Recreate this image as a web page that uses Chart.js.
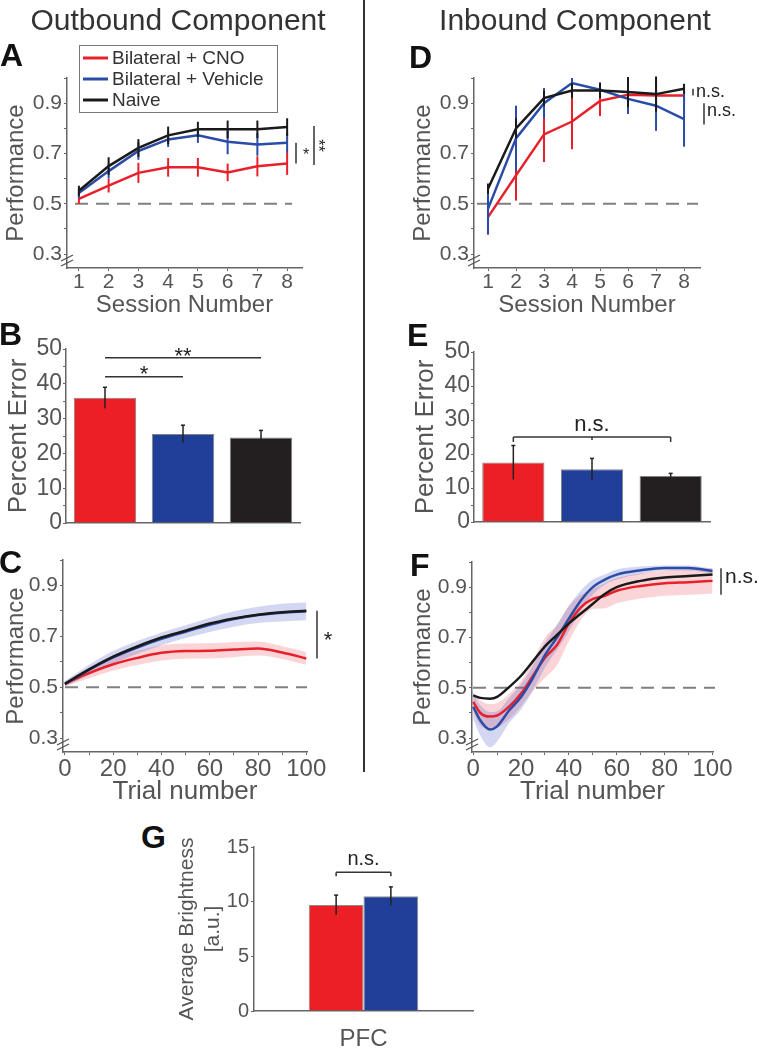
<!DOCTYPE html>
<html>
<head>
<meta charset="utf-8">
<title>Outbound / Inbound Component</title>
<script src="https://cdn.jsdelivr.net/npm/chart.js@4.4.1/dist/chart.umd.min.js"></script>
<style>
  body { margin: 0; background: #fff; }
  #fig { position: relative; width: 760px; height: 1050px; overflow: hidden; font-family: "Liberation Sans", Arial, Helvetica, sans-serif; }
  #fig canvas { position: absolute; }
  .head { position: absolute; font-size: 30px; line-height: 30px; color: #333; text-align: center; white-space: nowrap; }
  .tag { position: absolute; font-size: 32px; line-height: 32px; font-weight: bold; color: #111; }
  #divider { position: absolute; left: 363px; top: 0; width: 2px; height: 772px; background: #333; }
</style>
</head>
<body>
<div id="fig">
  <canvas id="chartA" width="362" height="292" style="left:0;top:30px"></canvas>
  <canvas id="chartD" width="353" height="292" style="left:407px;top:30px"></canvas>
  <canvas id="chartB" width="362" height="219" style="left:0;top:320px"></canvas>
  <canvas id="chartE" width="353" height="218" style="left:407px;top:320px"></canvas>
  <canvas id="chartC" width="362" height="265" style="left:0;top:545px"></canvas>
  <canvas id="chartF" width="353" height="265" style="left:407px;top:545px"></canvas>
  <canvas id="chartG" width="330" height="220" style="left:171px;top:830px"></canvas>

  <div class="head" style="left:28px;top:5px;width:300px">Outbound Component</div>
  <div class="head" style="left:425px;top:5px;width:300px">Inbound Component</div>
  <div id="divider"></div>
  <div class="tag" style="left:0;top:39px">A</div>
  <div class="tag" style="left:409px;top:41px">D</div>
  <div class="tag" style="left:-1px;top:318px">B</div>
  <div class="tag" style="left:407px;top:319px">E</div>
  <div class="tag" style="left:-1px;top:546px">C</div>
  <div class="tag" style="left:410px;top:549px">F</div>
  <div class="tag" style="left:141px;top:821px">G</div>
</div>

<script>
// ---- data ----
var groups = ['Bilateral + CNO', 'Bilateral + Vehicle', 'Naive'];

var sessions = [1, 2, 3, 4, 5, 6, 7, 8];
var sessionLabels = ['1', '2', '3', '4', '5', '6', '7', '8'];
var perfTicks = [0.3, 0.4, 0.5, 0.6, 0.7, 0.8, 0.9, 1.0];
var perfTickLabels = ['0.3', '', '0.5', '', '0.7', '', '0.9', ''];

// A - outbound performance per session
var outCNO = [0.52, 0.572, 0.623, 0.645, 0.645, 0.625, 0.649, 0.66];
var outCNOErr = [0.02, 0.027, 0.04, 0.037, 0.037, 0.035, 0.04, 0.045];
var outVeh = [0.543, 0.63, 0.71, 0.756, 0.772, 0.747, 0.736, 0.743];
var outVehErr = [0.02, 0.03, 0.035, 0.03, 0.03, 0.05, 0.045, 0.04];
var outNaive = [0.552, 0.65, 0.722, 0.772, 0.796, 0.796, 0.796, 0.805];
var outNaiveErr = [0.02, 0.035, 0.035, 0.035, 0.03, 0.035, 0.035, 0.035];

// D - inbound performance per session
var inCNO = [0.447, 0.613, 0.776, 0.827, 0.909, 0.933, 0.93, 0.93];
var inCNOErr = [0.07, 0.1, 0.11, 0.11, 0.06, 0.07, 0.06, 0.02];
var inVeh = [0.48, 0.76, 0.9, 0.98, 0.953, 0.917, 0.89, 0.837];
var inVehErr = [0.1, 0.13, 0.06, 0.02, 0.03, 0.06, 0.1, 0.11];
var inNaive = [0.56, 0.8, 0.92, 0.95, 0.95, 0.944, 0.936, 0.957];
var inNaiveErr = [0.02, 0.04, 0.03, 0.03, 0.03, 0.06, 0.07, 0.02];

// B / E - percent error
var pctTicks = [0, 5, 10, 15, 20, 25, 30, 35, 40, 45, 50];
var pctTickLabels = ['0', '', '10', '', '20', '', '30', '', '40', '', '50'];
var outError = [36, 25.6, 24.6];
var outErrorSem = [3, 2.5, 2];
var inError = [17.5, 15.5, 13.5];
var inErrorSem = [5, 3.2, 0.8];

// C - outbound performance by trial
var trialTicks = [0, 10, 20, 30, 40, 50, 60, 70, 80, 90, 100];
var trialTickLabels = ['0', '', '20', '', '40', '', '60', '', '80', '', '100'];
var trialsC = [0, 10, 20, 30, 40, 50, 60, 70, 80, 90, 100];
var cNaive = [0.513, 0.57, 0.62, 0.66, 0.695, 0.722, 0.75, 0.77, 0.785, 0.795, 0.8];
var cVeh = [0.513, 0.568, 0.617, 0.656, 0.69, 0.718, 0.745, 0.768, 0.784, 0.793, 0.798];
var cVehBand = [0.01, 0.02, 0.025, 0.025, 0.025, 0.025, 0.028, 0.03, 0.032, 0.035, 0.035];
var cCNO = [0.513, 0.555, 0.59, 0.615, 0.635, 0.642, 0.643, 0.648, 0.652, 0.636, 0.613];
var cCNOBand = [0.01, 0.02, 0.025, 0.028, 0.03, 0.03, 0.03, 0.03, 0.028, 0.025, 0.025];

// F - inbound performance by trial
var trialsF = [0, 3, 7, 10, 15, 20, 25, 30, 35, 40, 45, 50, 55, 60, 70, 80, 90, 100];
var fNaive = [0.47, 0.46, 0.457, 0.464, 0.503, 0.548, 0.606, 0.665, 0.71, 0.756, 0.795, 0.834, 0.873, 0.9, 0.925, 0.938, 0.944, 0.95];
var fVeh = [0.425, 0.37, 0.334, 0.347, 0.41, 0.464, 0.54, 0.63, 0.7, 0.775, 0.847, 0.9, 0.93, 0.95, 0.967, 0.976, 0.976, 0.964];
var fVehBand = [0.05, 0.06, 0.07, 0.06, 0.05, 0.05, 0.05, 0.05, 0.05, 0.05, 0.04, 0.03, 0.02, 0.02, 0.015, 0.01, 0.01, 0.01];
var fCNO = [0.444, 0.4, 0.386, 0.39, 0.425, 0.477, 0.548, 0.62, 0.67, 0.756, 0.82, 0.853, 0.866, 0.886, 0.905, 0.916, 0.92, 0.925];
var fCNOBand = [0.04, 0.05, 0.05, 0.05, 0.05, 0.05, 0.06, 0.08, 0.08, 0.07, 0.05, 0.04, 0.05, 0.05, 0.05, 0.05, 0.05, 0.05];

// G - brightness
var regions = ['PFC'];
var brightTicks = [0, 5, 10, 15];
var brightTickLabels = ['0', '5', '10', '15'];
var brightCNO = [9.7];
var brightCNOErr = [0.9];
var brightVeh = [10.5];
var brightVehErr = [0.85];

// ---- style ----
var FONT = '"Liberation Sans", Arial, Helvetica, sans-serif';
var TXT = '#555';
var AX = '#666';
var RED = '#e8202a', BLUE = '#2b4ca6', BLACK = '#1a1a1a';
var RED_BAR = '#ec1f26', BLUE_BAR = '#203f99', BLACK_BAR = '#231f20';
var RED_BAND = 'rgba(232,60,70,0.22)', BLUE_BAND = 'rgba(80,95,200,0.25)';

function font(size) { return { family: FONT, size: size }; }

function pts(xs, ys) {
    return xs.map(function (x, i) { return { x: x, y: ys[i] }; });
}

function lineDs(xs, ys, color, smooth) {
    return {
        data: pts(xs, ys), borderColor: color, borderWidth: 2.5,
        pointRadius: 0, fill: false,
        cubicInterpolationMode: smooth ? 'monotone' : 'default', tension: 0
    };
}

function bandDs(xs, ys, band, color) {
    var up = ys.map(function (v, i) { return v + band[i]; });
    var lo = ys.map(function (v, i) { return v - band[i]; });
    return [
        { data: pts(xs, up), borderColor: 'rgba(0,0,0,0)', borderWidth: 0, pointRadius: 0,
          backgroundColor: color, fill: '+1', cubicInterpolationMode: 'monotone' },
        { data: pts(xs, lo), borderColor: 'rgba(0,0,0,0)', borderWidth: 0, pointRadius: 0,
          fill: false, cubicInterpolationMode: 'monotone' }
    ];
}

function base(pad) {
    return {
        responsive: false, animation: false, events: [],
        layout: { padding: pad },
        plugins: { legend: { display: false }, tooltip: { enabled: false } }
    };
}

function fixedTicks(values) {
    return function (s) { s.ticks = values.map(function (v) { return { value: v }; }); };
}

function perfScale(w) {
    return {
        type: 'linear', min: 0.245, max: 1.0, bounds: 'data',
        afterFit: function (s) { s.width = w; },
        afterBuildTicks: fixedTicks(perfTicks),
        ticks: { autoSkip: false, color: TXT, font: font(21), padding: 2,
                 callback: function (v, i) { return perfTickLabels[i]; } },
        grid: { drawOnChartArea: false, color: AX, tickLength: 3 },
        border: { color: AX, width: 1.5 },
        title: { display: true, text: 'Performance', color: TXT, font: font(24), padding: { top: 2, bottom: 0 } }
    };
}

function sessionScale(h, min, max) {
    return {
        type: 'linear', min: min, max: max, bounds: 'data',
        afterFit: function (s) { s.height = h; },
        afterBuildTicks: fixedTicks(sessions),
        ticks: { autoSkip: false, maxRotation: 0, color: TXT, font: font(21), padding: -1,
                 callback: function (v, i) { return sessionLabels[i]; } },
        grid: { drawOnChartArea: false, color: AX, tickLength: 3 },
        border: { color: AX, width: 1.5 },
        title: { display: true, text: 'Session Number', color: TXT, font: font(24), padding: { top: 0, bottom: 2 } }
    };
}

function trialScale(h, min, max) {
    return {
        type: 'linear', min: min, max: max, bounds: 'data',
        afterFit: function (s) { s.height = h; },
        afterBuildTicks: fixedTicks(trialTicks),
        ticks: { autoSkip: false, maxRotation: 0, color: TXT, font: font(24), padding: 0,
                 callback: function (v, i) { return trialTickLabels[i]; } },
        grid: { drawOnChartArea: false, color: AX, tickLength: 3 },
        border: { color: AX, width: 1.5 },
        title: { display: true, text: 'Trial number', color: TXT, font: font(26), padding: { top: 0, bottom: 3 } }
    };
}

function pctScale(w) {
    return {
        min: 0, max: 50, bounds: 'data',
        afterFit: function (s) { s.width = w; },
        afterBuildTicks: fixedTicks(pctTicks),
        ticks: { autoSkip: false, color: TXT, font: font(23), padding: 1,
                 callback: function (v, i) { return pctTickLabels[i]; } },
        grid: { drawOnChartArea: false, color: AX, tickLength: 3 },
        border: { color: AX, width: 1.5 },
        title: { display: true, text: 'Percent Error', color: TXT, font: font(26), padding: { top: 3, bottom: 0 } }
    };
}

function hiddenCat(h) {
    return {
        afterFit: function (s) { s.height = h; },
        ticks: { display: false },
        grid: { display: false },
        border: { color: AX, width: 1.5 }
    };
}

// ---- drawing helpers ----
function yPx(c, v) { return c.scales.y.getPixelForValue(v); }
function xPx(c, v) { return c.scales.x.getPixelForValue(v); }

function seg(c, x1, y1, x2, y2, color, w) {
    var ctx = c.ctx;
    ctx.save();
    ctx.strokeStyle = color;
    ctx.lineWidth = w;
    ctx.beginPath();
    ctx.moveTo(x1, y1);
    ctx.lineTo(x2, y2);
    ctx.stroke();
    ctx.restore();
}

function label(c, s, x, y, size, align, rot) {
    var ctx = c.ctx;
    ctx.save();
    ctx.translate(x, y);
    if (rot) ctx.rotate(rot);
    ctx.font = size + 'px ' + FONT;
    ctx.fillStyle = '#222';
    ctx.textAlign = align || 'center';
    ctx.textBaseline = 'alphabetic';
    ctx.fillText(s, 0, 0);
    ctx.restore();
}

function chance(c, l, r) {
    var ca = c.chartArea, y = yPx(c, 0.5), ctx = c.ctx;
    ctx.save();
    ctx.setLineDash([13, 8]);
    ctx.strokeStyle = '#808080';
    ctx.lineWidth = 2;
    ctx.beginPath();
    ctx.moveTo(ca.left + l, y);
    ctx.lineTo(ca.right + r, y);
    ctx.stroke();
    ctx.restore();
}

function axisBreak(c) {
    var ca = c.chartArea;
    [-10, -5].forEach(function (dy) {
        seg(c, ca.left - 6, ca.bottom + dy + 3, ca.left + 6, ca.bottom + dy - 3, '#555', 1.3);
    });
}

function errBars(c, xs, ys, es, color) {
    xs.forEach(function (x, i) {
        var px = xPx(c, x);
        seg(c, px, yPx(c, ys[i] - es[i]), px, yPx(c, ys[i] + es[i]), color, 2);
    });
}

function barErr(c, dsIndex, vals, errs) {
    var meta = c.getDatasetMeta(dsIndex);
    meta.data.forEach(function (bar, i) {
        var t = yPx(c, vals[i] + errs[i]), b = yPx(c, vals[i] - errs[i]);
        seg(c, bar.x, t, bar.x, b, '#222', 1.5);
        seg(c, bar.x - 2, t, bar.x + 2, t, '#222', 1.5);
    });
}

function bracket(c, x1, x2, v, drop, mid) {
    var y = yPx(c, v);
    seg(c, x1, y, x2, y, '#333', 1.5);
    if (drop) {
        seg(c, x1, y, x1, y + drop, '#333', 1.5);
        seg(c, x2, y, x2, y + drop, '#333', 1.5);
    }
    if (mid !== undefined) seg(c, mid, y, mid, y + 3, '#333', 1.5);
    return y;
}

function legendBox(c) {
    var ctx = c.ctx, ca = c.chartArea;
    var x = ca.left + 12, y = ca.top - 33, w = 198, h = 67;
    var colors = [RED, BLUE, BLACK];
    ctx.save();
    ctx.fillStyle = '#fff';
    ctx.fillRect(x, y, w, h);
    ctx.strokeStyle = '#777';
    ctx.lineWidth = 1;
    ctx.strokeRect(x + 0.5, y + 0.5, w, h);
    groups.forEach(function (name, i) {
        var ry = y + 13 + i * 21;
        ctx.strokeStyle = colors[i];
        ctx.lineWidth = 3;
        ctx.beginPath();
        ctx.moveTo(x + 4, ry);
        ctx.lineTo(x + 29, ry);
        ctx.stroke();
        ctx.fillStyle = '#333';
        ctx.font = '19px ' + FONT;
        ctx.textAlign = 'left';
        ctx.textBaseline = 'middle';
        ctx.fillText(name, x + 33, ry + 1);
    });
    ctx.restore();
}

// ===== A: outbound, by session =====
var optA = base({ left: 0, top: 48, right: 60, bottom: 0 });
optA.scales = { x: sessionScale(54, 0.6, 8.5), y: perfScale(67) };
new Chart(document.getElementById('chartA'), {
    type: 'line',
    data: { datasets: [
        lineDs(sessions, outNaive, BLACK),
        lineDs(sessions, outVeh, BLUE),
        lineDs(sessions, outCNO, RED)
    ] },
    options: optA,
    plugins: [{
        id: 'decoA',
        beforeDatasetsDraw: function (c) { chance(c, 8, -10); },
        afterDatasetsDraw: function (c) {
            errBars(c, sessions, outCNO, outCNOErr, RED);
            errBars(c, sessions, outVeh, outVehErr, BLUE);
            errBars(c, sessions, outNaive, outNaiveErr, BLACK);
        },
        afterDraw: function (c) {
            var ca = c.chartArea, n = sessions.length - 1;
            axisBreak(c);
            var a = yPx(c, outVeh[n]), b = yPx(c, outCNO[n]);
            seg(c, ca.right - 6, a, ca.right - 6, b, '#333', 1.5);
            label(c, '*', ca.right + 4, (a + b) / 2 + 7, 16);
            var t = yPx(c, outNaive[n] + 0.004), u = yPx(c, outCNO[n] - 0.006);
            seg(c, ca.right + 12, t, ca.right + 12, u, '#333', 1.5);
            label(c, '**', ca.right + 11, (t + u) / 2, 16, 'center', Math.PI / 2);
            legendBox(c);
        }
    }]
});

// ===== D: inbound, by session =====
var optD = base({ left: 0, top: 48, right: 60, bottom: 0 });
optD.scales = { x: sessionScale(54, 0.5, 8.57), y: perfScale(67) };
new Chart(document.getElementById('chartD'), {
    type: 'line',
    data: { datasets: [
        lineDs(sessions, inNaive, BLACK),
        lineDs(sessions, inVeh, BLUE),
        lineDs(sessions, inCNO, RED)
    ] },
    options: optD,
    plugins: [{
        id: 'decoD',
        beforeDatasetsDraw: function (c) { chance(c, 3, -2); },
        afterDatasetsDraw: function (c) {
            errBars(c, sessions, inCNO, inCNOErr, RED);
            errBars(c, sessions, inVeh, inVehErr, BLUE);
            errBars(c, sessions, inNaive, inNaiveErr, BLACK);
        },
        afterDraw: function (c) {
            var ca = c.chartArea, n = sessions.length - 1;
            axisBreak(c);
            var a = yPx(c, inNaive[n]), b = yPx(c, inCNO[n]);
            seg(c, ca.right - 7, a, ca.right - 7, b, '#333', 1.5);
            label(c, 'n.s.', ca.right - 4, (a + b) / 2 + 5, 18, 'left');
            var t = yPx(c, 0.9), u = yPx(c, 0.815);
            seg(c, ca.right + 4, t, ca.right + 4, u, '#333', 1.5);
            label(c, 'n.s.', ca.right + 7, (t + u) / 2 + 2, 18, 'left');
        }
    }]
});

// ===== B: outbound percent error =====
var optB = base({ left: 0, top: 29, right: 62, bottom: 0 });
optB.scales = { x: hiddenCat(16), y: pctScale(66) };
new Chart(document.getElementById('chartB'), {
    type: 'bar',
    data: { labels: groups, datasets: [{
        data: outError,
        backgroundColor: [RED_BAR, BLUE_BAR, BLACK_BAR],
        borderColor: 'rgba(30,30,30,0.55)', borderWidth: 1,
        barPercentage: 0.8, categoryPercentage: 1
    }] },
    options: optB,
    plugins: [{
        id: 'decoB',
        afterDraw: function (c) {
            var bars = c.getDatasetMeta(0).data;
            barErr(c, 0, outError, outErrorSem);
            var y2 = bracket(c, bars[0].x, bars[2].x, 47.5);
            label(c, '**', (bars[0].x + bars[2].x) / 2, y2 + 5, 22);
            var y1 = bracket(c, bars[0].x, bars[1].x, 42);
            label(c, '*', (bars[0].x + bars[1].x) / 2, y1 + 4, 22);
        }
    }]
});

// ===== E: inbound percent error =====
var optE = base({ left: 0, top: 32, right: 50, bottom: 0 });
optE.scales = { x: hiddenCat(16), y: pctScale(67) };
new Chart(document.getElementById('chartE'), {
    type: 'bar',
    data: { labels: groups, datasets: [{
        data: inError,
        backgroundColor: [RED_BAR, BLUE_BAR, BLACK_BAR],
        borderColor: 'rgba(30,30,30,0.55)', borderWidth: 1,
        barPercentage: 0.79, categoryPercentage: 1
    }] },
    options: optE,
    plugins: [{
        id: 'decoE',
        afterDraw: function (c) {
            var bars = c.getDatasetMeta(0).data;
            barErr(c, 0, inError, inErrorSem);
            var y = bracket(c, bars[0].x, bars[2].x, 25, 5, bars[1].x);
            label(c, 'n.s.', (bars[0].x + bars[2].x) / 2, y - 6, 22);
        }
    }]
});

// ===== C: outbound, by trial =====
var optC = base({ left: 0, top: 15, right: 55, bottom: 0 });
optC.scales = { x: trialScale(58, -0.8, 100.3), y: perfScale(63) };
new Chart(document.getElementById('chartC'), {
    type: 'line',
    data: { datasets: [
        lineDs(trialsC, cNaive, BLACK, true),
        lineDs(trialsC, cVeh, BLUE, true),
        lineDs(trialsC, cCNO, RED, true)
    ].concat(bandDs(trialsC, cVeh, cVehBand, BLUE_BAND), bandDs(trialsC, cCNO, cCNOBand, RED_BAND)) },
    options: optC,
    plugins: [{
        id: 'decoC',
        beforeDatasetsDraw: function (c) { chance(c, 2, 0); },
        afterDraw: function (c) {
            var ca = c.chartArea, n = trialsC.length - 1;
            axisBreak(c);
            var a = yPx(c, cNaive[n]), b = yPx(c, cCNO[n]);
            seg(c, ca.right + 10, a, ca.right + 10, b, '#333', 1.5);
            label(c, '*', ca.right + 21, (a + b) / 2 + 12, 22);
        }
    }]
});

// ===== F: inbound, by trial =====
var optF = base({ left: 0, top: 17, right: 47, bottom: 0 });
optF.scales = { x: trialScale(58, -0.5, 100.2), y: perfScale(65) };
new Chart(document.getElementById('chartF'), {
    type: 'line',
    data: { datasets: [
        lineDs(trialsF, fNaive, BLACK, true),
        lineDs(trialsF, fVeh, BLUE, true),
        lineDs(trialsF, fCNO, RED, true)
    ].concat(bandDs(trialsF, fVeh, fVehBand, BLUE_BAND), bandDs(trialsF, fCNO, fCNOBand, RED_BAND)) },
    options: optF,
    plugins: [{
        id: 'decoF',
        beforeDatasetsDraw: function (c) { chance(c, 1, 2); },
        afterDraw: function (c) {
            var ca = c.chartArea;
            axisBreak(c);
            var a = yPx(c, 0.975), b = yPx(c, 0.87);
            seg(c, ca.right + 8, a, ca.right + 8, b, '#333', 1.5);
            label(c, 'n.s.', ca.right + 12, a + 15, 21, 'left');
        }
    }]
});

// ===== G: brightness =====
var optG = base({ left: 0, top: 17, right: 28, bottom: 0 });
optG.scales = {
    x: {
        afterFit: function (s) { s.height = 39; },
        ticks: { color: TXT, font: font(24), padding: 6 },
        grid: { display: false },
        border: { color: AX, width: 1.5 }
    },
    y: {
        min: 0, max: 15, bounds: 'data',
        afterFit: function (s) { s.width = 83; },
        afterBuildTicks: fixedTicks(brightTicks),
        ticks: { autoSkip: false, color: TXT, font: font(20), padding: 2,
                 callback: function (v, i) { return brightTickLabels[i]; } },
        grid: { drawOnChartArea: false, color: AX, tickLength: 3 },
        border: { color: AX, width: 1.5 },
        title: { display: true, text: ['Average Brightness', '[a.u.]'], color: TXT, font: font(21), padding: { top: 4, bottom: 0 } }
    }
};
new Chart(document.getElementById('chartG'), {
    type: 'bar',
    data: { labels: regions, datasets: [
        { data: brightCNO, backgroundColor: RED_BAR, borderColor: 'rgba(30,30,30,0.5)', borderWidth: 1,
          barPercentage: 1, categoryPercentage: 0.5 },
        { data: brightVeh, backgroundColor: BLUE_BAR, borderColor: 'rgba(30,30,30,0.5)', borderWidth: 1,
          barPercentage: 1, categoryPercentage: 0.5 }
    ] },
    options: optG,
    plugins: [{
        id: 'decoG',
        afterDraw: function (c) {
            var r = c.getDatasetMeta(0).data[0], b = c.getDatasetMeta(1).data[0];
            barErr(c, 0, brightCNO, brightCNOErr);
            barErr(c, 1, brightVeh, brightVehErr);
            var y = bracket(c, r.x, b.x, 12.7, 4);
            label(c, 'n.s.', (r.x + b.x) / 2, y - 7, 20);
        }
    }]
});
</script>
</body>
</html>
